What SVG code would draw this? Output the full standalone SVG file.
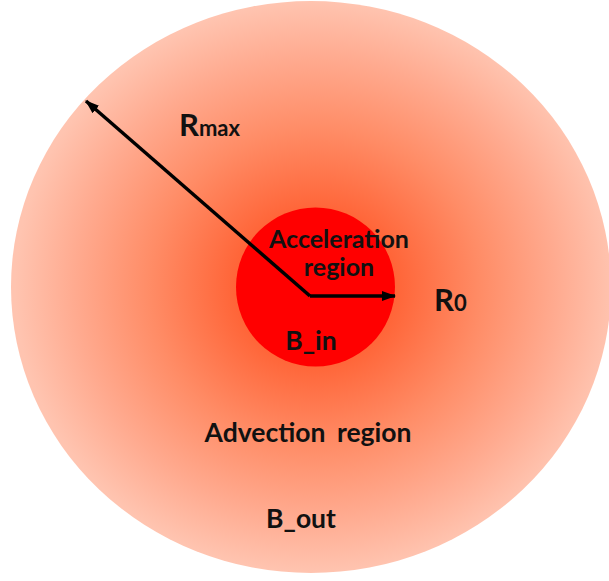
<svg xmlns="http://www.w3.org/2000/svg" width="609" height="581" viewBox="0 0 609 581">
  <style>
    text { font-family: Lato, "Liberation Sans", sans-serif; font-weight: bold; fill: #111; }
    .lbl { font-size: 26.5px; }
    .acc { font-size: 25px; }
    .big { font-size: 31px; }
    .sub { font-size: 22px; }
    .arrow { stroke: #000; stroke-width: 3.5; fill: none; }
  </style>
  <defs>
    <radialGradient id="outerGrad" cx="0.507" cy="0.5" r="0.5">
      <stop offset="0" stop-color="#ff4a1a"/>
      <stop offset="0.27" stop-color="#ff6538"/>
      <stop offset="0.55" stop-color="#ff8c66"/>
      <stop offset="0.8" stop-color="#ffaa8f"/>
      <stop offset="1" stop-color="#ffc4b0"/>
    </radialGradient>
    <marker id="head" markerWidth="16" markerHeight="12" refX="13" refY="6" orient="auto" markerUnits="userSpaceOnUse">
      <path d="M0,1 L14,6 L0,11 Z" fill="#000"/>
    </marker>
  </defs>
  <rect width="609" height="581" fill="#ffffff"/>
  <g id="advection-region">
    <ellipse cx="311" cy="287" rx="300" ry="286" fill="url(#outerGrad)"/>
    <text class="lbl" x="308" y="442" text-anchor="middle" word-spacing="5">Advection region</text>
    <text class="lbl" x="301" y="528" text-anchor="middle">B_out</text>
  </g>
  <g id="acceleration-region">
    <circle cx="315.5" cy="287" r="79.5" fill="#ff0000"/>
    <text class="acc" x="339" y="248" text-anchor="middle">Acceleration</text>
    <text class="acc" x="339" y="276" text-anchor="middle">region</text>
    <text class="lbl" x="311" y="350" text-anchor="middle">B_in</text>
  </g>
  <g id="connectors">
    <path class="arrow" d="M310,296 L86,101" marker-end="url(#head)"/>
    <path class="arrow" d="M310,296 L395,296" marker-end="url(#head)"/>
  </g>
  <g id="label-rmax">
    <text x="179" y="136"><tspan class="big">R</tspan><tspan class="sub">max</tspan></text>
  </g>
  <g id="label-r0">
    <text x="434" y="311"><tspan class="big">R</tspan><tspan class="sub">0</tspan></text>
  </g>
</svg>
